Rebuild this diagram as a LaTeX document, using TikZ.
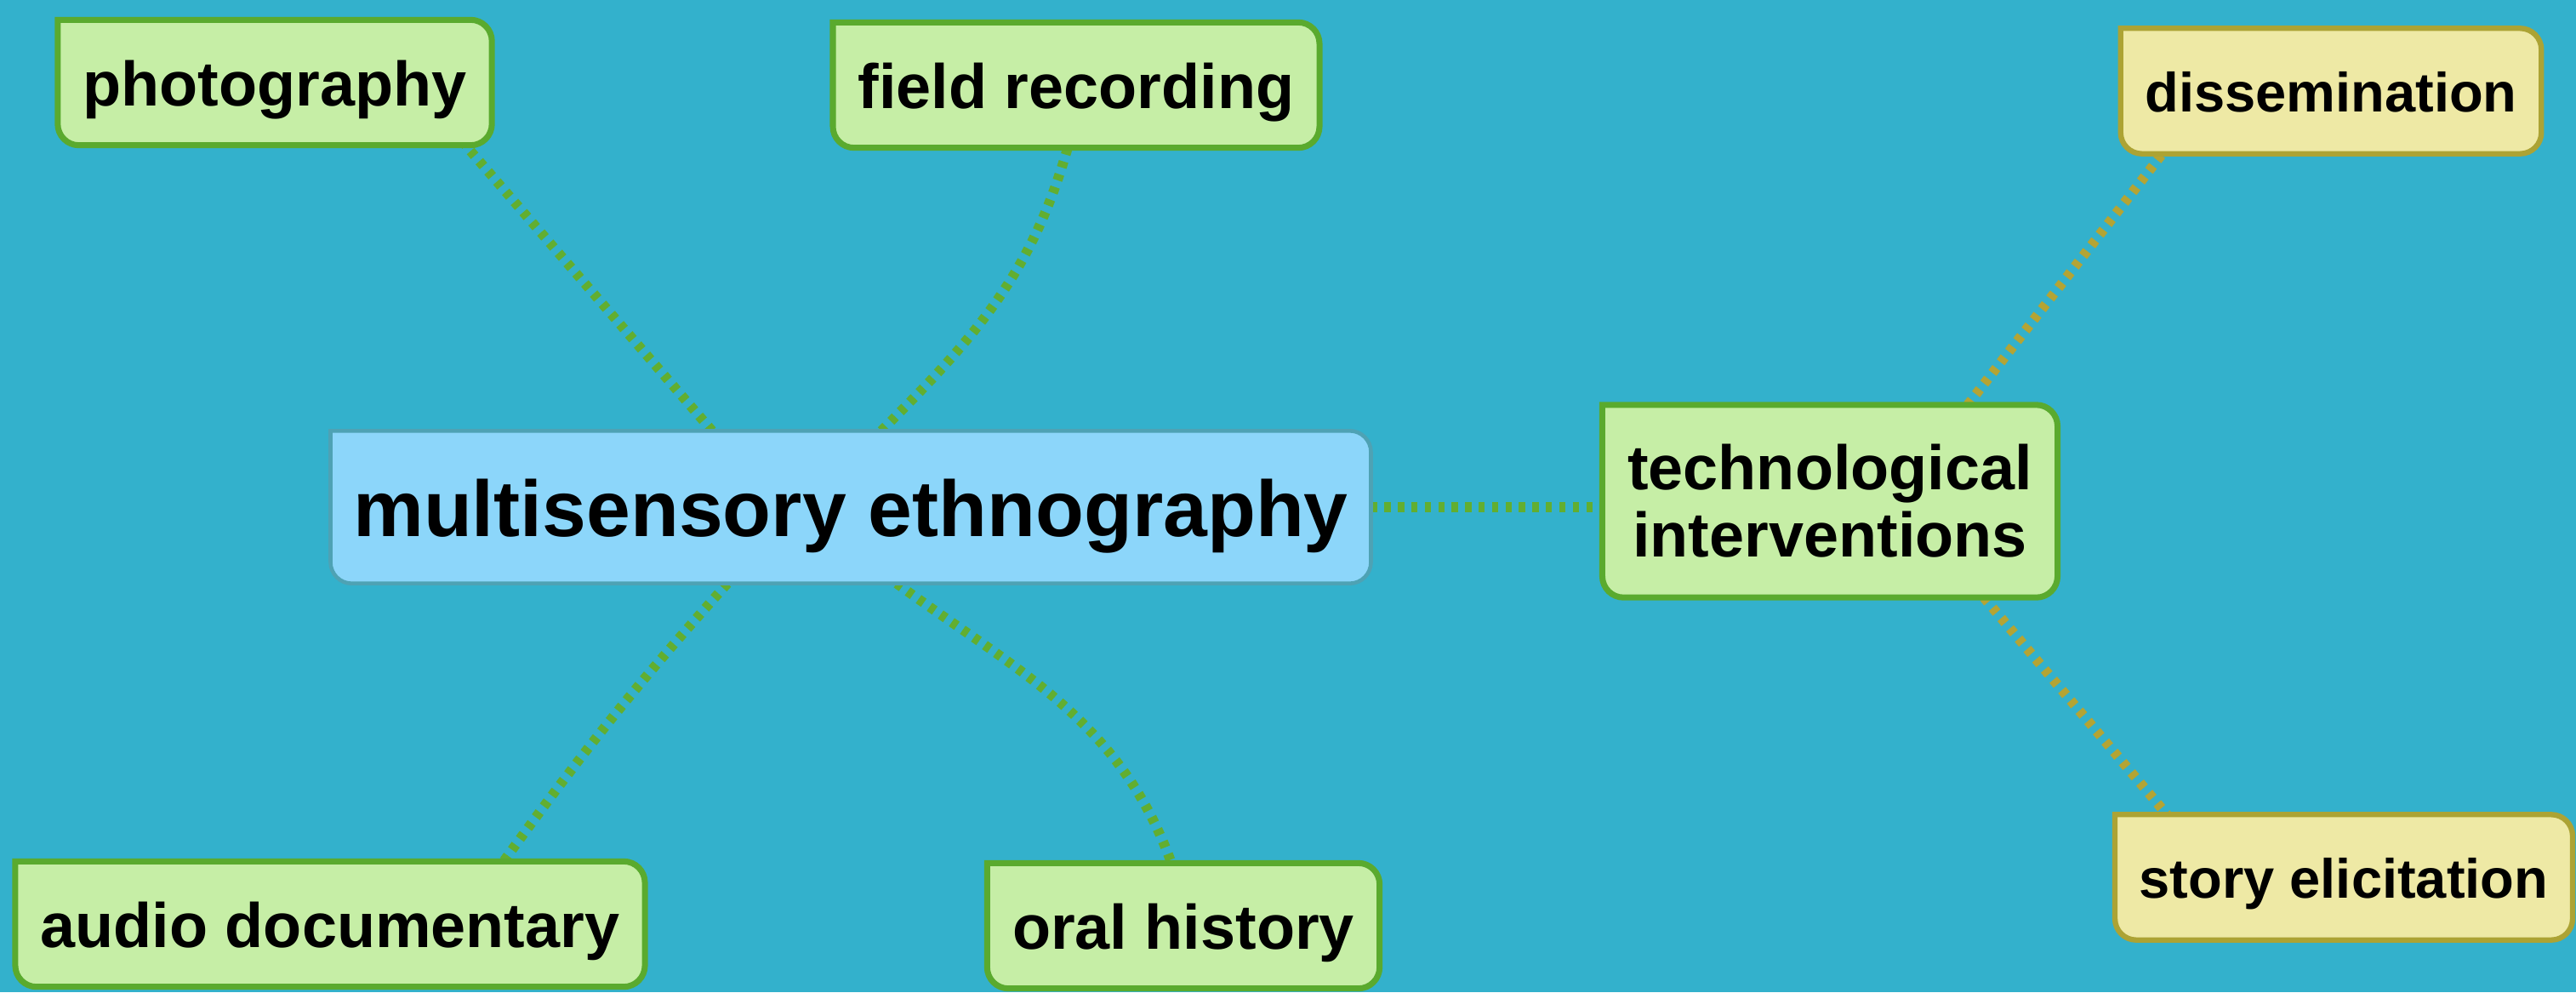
\documentclass[tikz,border=0pt]{standalone}
\usepackage{fontspec}
\setmainfont{Liberation Sans}
\usetikzlibrary{backgrounds}

\definecolor{sea}{RGB}{51,177,204}
\definecolor{leaffill}{RGB}{198,238,166}
\definecolor{leafline}{RGB}{90,170,46}
\definecolor{twigfill}{RGB}{238,233,165}
\definecolor{twigline}{RGB}{172,163,52}
\definecolor{corefill}{RGB}{140,214,250}
\definecolor{coreline}{RGB}{78,162,180}
\definecolor{linkgreen}{RGB}{98,174,48}
\definecolor{linkolive}{RGB}{180,164,52}

% box outline, top left corner stays square
\newcommand{\tabbox}[1]{(#1.north west) -- ([xshift=-.25cm]#1.north east)
  arc[start angle=90, end angle=0, radius=.25cm] -- ([yshift=.25cm]#1.south east)
  arc[start angle=0, end angle=-90, radius=.25cm] -- ([xshift=.25cm]#1.south west)
  arc[start angle=270, end angle=180, radius=.25cm] -- cycle}

\begin{document}
\begin{tikzpicture}

      \tikzset{leaf/.style={font=\bfseries\fontsize{21}{22.5}\selectfont, inner xsep=.29cm, text height=15.5pt, text depth=0pt, minimum height=1.46cm},
               twig/.style={font=\bfseries\fontsize{18.5}{20}\selectfont, inner xsep=.28cm, text height=13.7pt, text depth=0pt, minimum height=1.46cm},
               core/.style={font=\bfseries\fontsize{26.5}{28}\selectfont, inner xsep=.26cm, text height=19.5pt, text depth=0pt, minimum height=1.78cm},
               hub/.style={font=\bfseries\fontsize{21}{22.5}\selectfont, align=center, inner xsep=.29cm, minimum height=2.25cm},
               link/.style={draw=linkgreen, line width=3.3pt, dash pattern=on 2.1pt off 2.4pt},
               leafframe/.style={draw=leafline, fill=leaffill, line width=2pt},
               twigframe/.style={draw=twigline, fill=twigfill, line width=1.8pt},
               coreframe/.style={draw=coreline, fill=corefill, line width=1.3pt}}

      \useasboundingbox (0,0) rectangle (30.28,-11.66);
%% Topics
      	\node[core] (ethno) at (10.00,-5.96) {multisensory ethnography};
      	\node[leaf] (photo) at (3.23,-0.97) {photography};
      	\node[leaf] (field) at (12.65,-1.00) {field recording};
      	\node[leaf] (audio) at (3.88,-10.86) {audio documentary};
      	\node[leaf] (oral) at (13.91,-10.88) {oral history};
      	\node[hub] (tech) at (21.51,-5.89) {technological\\interventions};
      	\node[twig] (dissem) at (27.40,-1.07) {dissemination};
      	\node[twig] (story) at (27.55,-10.31) {story elicitation};

	\begin{scope}[on background layer]
		\fill[sea] (0,0) rectangle (30.28,-11.66);
%Edges
		\draw[link] ([xshift=-1.63cm]ethno.north) -- ([xshift=-.31cm]photo.south east);
		\draw[link] ([xshift=.36cm]ethno.north) to[out=45, in=-106] ([xshift=-.10cm]field.south);
		\draw[link] ([xshift=-1.45cm]ethno.south) to[bend right=3] ([xshift=2.04cm]audio.north);
		\draw[link] ([xshift=.54cm]ethno.south) to[out=-36, in=110] ([xshift=-.14cm]oral.north);
		\draw[link] (ethno.east) -- (ethno.east -| tech.west);
		\draw[link, linkolive] ([xshift=1.62cm]tech.north) -- ([xshift=.49cm]dissem.south west);
		\draw[link, linkolive] ([xshift=1.81cm]tech.south) -- ([xshift=.61cm]story.north west);
%Frames
		\foreach \n in {photo, field, audio, oral, tech}
			\draw[leafframe] \tabbox{\n};
		\foreach \n in {dissem, story}
			\draw[twigframe] \tabbox{\n};
		\draw[coreframe] \tabbox{ethno};
	\end{scope}

	\end{tikzpicture}
\end{document}
